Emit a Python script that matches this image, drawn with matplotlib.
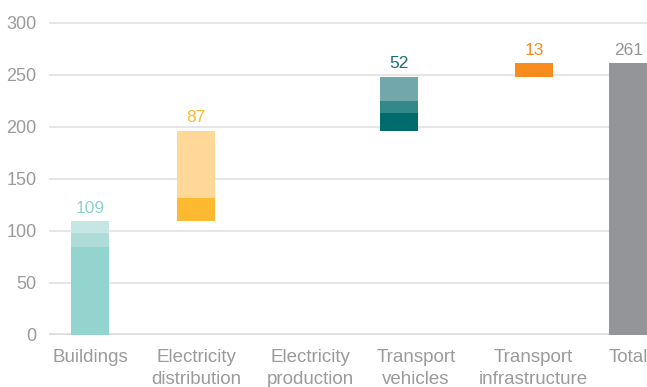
import numpy as np
import matplotlib
matplotlib.use("Agg")
import matplotlib.pyplot as plt

plt.rcParams["font.family"] = ["Liberation Sans", "DejaVu Sans"]

# Categories and values
categories = ["Buildings", "Electricity\ndistribution", "Electricity\nproduction",
              "Transport\nvehicles", "Transport\ninfrastructure", "Total"]
totals = [109, 87, 0, 52, 13, 261]

# Stacked components within each step (bottom to top)
segments = [
    [84, 14, 11],
    [22, 65],
    [],
    [17, 12, 23],
    [13],
    [261],
]
segment_colors = [
    ["#93d4cf", "#aedcd8", "#c6e6e3"],
    ["#fdb92f", "#ffd797"],
    [],
    ["#006b6d", "#33888a", "#72a8ab"],
    ["#f68d1e"],
    ["#939598"],
]
label_colors = ["#8fd3cc", "#fdb92f", "#939598", "#1b6f72", "#f68d1e", "#939598"]
is_total = [False, False, False, False, False, True]

yticks = [0, 50, 100, 150, 200, 250, 300]

# Layout: slot offsets for bars and category labels
bar_shift = [0.0, 0.0, 0.0, -0.085, 0.19, 0.08]
label_shift = [0.0, 0.0, 0.075, 0.075, 0.18, 0.08]
bar_width = 0.36

W, H = 647, 387
fig = plt.figure(figsize=(W / 100, H / 100), dpi=100)
ax_left, ax_right = 49, 647
ax_bottom = 334.5
ymax = 310
px_per_unit = 1.04
ax_top = ax_bottom - ymax * px_per_unit
ax = fig.add_axes([ax_left / W, 1 - ax_bottom / H,
                   (ax_right - ax_left) / W, (ax_bottom - ax_top) / H])

slot_px = 106.0
x0 = (ax_left - 90) / slot_px
x1 = (ax_right - 90) / slot_px
ax.set_xlim(x0, x1)
ax.set_ylim(0, ymax)

# Waterfall bars
running = 0
for i, (tot, segs, cols) in enumerate(zip(totals, segments, segment_colors)):
    base = 0 if is_total[i] else running
    x = i + bar_shift[i]
    b = base
    for v, c in zip(segs, cols):
        ax.bar(x, v, bottom=b, width=bar_width, color=c, linewidth=0, zorder=3)
        b += v
    if tot:
        ax.text(x, base + tot + 5, f"{tot}", ha="center", va="bottom",
                fontsize=12.5, color=label_colors[i], zorder=4)
    if not is_total[i]:
        running += tot

# Grid and baseline
for y in yticks[1:]:
    ax.axhline(y, color="#e1e1e1", linewidth=1.2, zorder=1)
ax.axhline(0, color="#dcdcdc", linewidth=2.6, zorder=2)

ax.set_yticks(yticks)
ax.set_yticklabels([str(t) for t in yticks])
ax.set_xticks([i + s for i, s in enumerate(label_shift)])
ax.set_xticklabels(categories, linespacing=1.36)
ax.tick_params(axis="both", length=0, colors="#9b9b9b")
ax.tick_params(axis="y", pad=9, labelsize=13)
ax.tick_params(axis="x", pad=10.5, labelsize=13.5)
for s in ax.spines.values():
    s.set_visible(False)

fig.savefig("out.png", dpi=100)
